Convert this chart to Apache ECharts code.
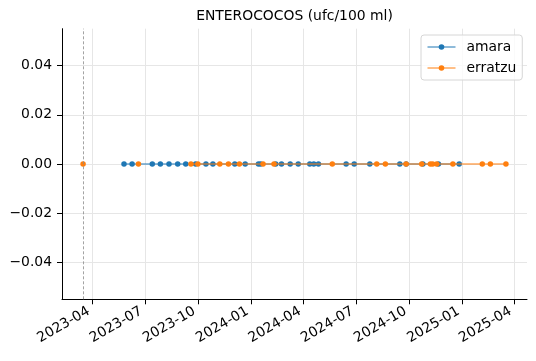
<!DOCTYPE html>
<html>
<head>
<meta charset="utf-8">
<script src="https://cdn.jsdelivr.net/npm/echarts@6/dist/echarts.min.js"></script>
<style>
html,body{margin:0;padding:0;background:#fff;}
#chart{width:536px;height:361px;}
</style>
</head>
<body>
<div id="chart"></div>
<script>
// ---- data ----
const titleText = 'ENTEROCOCOS (ufc/100 ml)';
const seriesNames = ['amara', 'erratzu'];
const amaraDates = ['2023-05-26','2023-06-09','2023-07-14','2023-07-28','2023-08-12','2023-08-27','2023-09-10','2023-09-27','2023-10-15','2023-10-27','2023-12-04','2023-12-22','2024-01-14','2024-01-18','2024-02-13','2024-02-23','2024-03-09','2024-03-23','2024-04-12','2024-04-19','2024-04-27','2024-06-14','2024-06-28','2024-07-25','2024-09-15','2024-09-26','2024-10-25','2024-11-21','2024-12-27'];
const amaraValues = [0,0,0,0,0,0,0,0,0,0,0,0,0,0,0,0,0,0,0,0,0,0,0,0,0,0,0,0,0];
const erratzuDates = ['2023-03-16','2023-05-01','2023-06-20','2023-08-01','2023-09-19','2023-10-01','2023-11-08','2023-11-23','2023-12-12','2024-01-22','2024-02-10','2024-05-21','2024-08-06','2024-08-21','2024-09-26','2024-10-23','2024-11-07','2024-11-11','2024-11-18','2024-12-16','2025-02-05','2025-02-19','2025-03-18'];
const erratzuValues = [0,null,0,null,0,0,0,0,0,0,0,0,0,0,0,0,0,0,0,0,0,0,0];
const markerDate = '2023-03-16';
const xTickDates = ['2023-04-01','2023-07-01','2023-10-01','2024-01-01','2024-04-01','2024-07-01','2024-10-01','2025-01-01','2025-04-01'];
const xMin = '2023-02-07T12:00:00';
const xMax = '2025-04-23T12:00:00';
const yTicks = [-0.04, -0.02, 0, 0.02, 0.04];
const yMin = -0.055, yMax = 0.055;

// ---- chart ----
const FONT = 'DejaVu Sans';
const FS = 13.9;
const parseT = s => +echarts.time.parse(s);
const xTickValues = xTickDates.map(parseT);
const pair = (ds, vs) => ds.map((d, i) => [parseT(d), vs[i] === null ? '-' : vs[i]]);
const fmtY = v => (v < 0 ? '\u2212' + (-v).toFixed(2) : Math.abs(v).toFixed(2));

const chart = echarts.init(document.getElementById('chart'), null, {renderer: 'canvas'});
chart.setOption({
  animation: false,
  backgroundColor: '#fff',
  textStyle: {fontFamily: FONT},
  title: {
    text: titleText,
    left: 294.5,
    top: 9,
    textAlign: 'center',
    padding: 0,
    textStyle: {fontFamily: FONT, fontSize: FS, fontWeight: 'normal', color: '#000'}
  },
  legend: {
    orient: 'vertical',
    left: 421,
    top: 35,
    padding: [5, 6, 5, 6],
    itemWidth: 28,
    itemHeight: 7,
    itemGap: 7,
    borderColor: '#d6d6d6',
    borderWidth: 1,
    borderRadius: 3,
    backgroundColor: 'rgba(255,255,255,0.8)',
    lineStyle: {width: 1},
    data: seriesNames,
    textStyle: {fontFamily: FONT, fontSize: FS, color: '#000', padding: [0, 0, 0, 6]}
  },
  grid: {left: 62, right: 9, top: 28.7, bottom: 61.7, containLabel: false},
  xAxis: {
    type: 'value',
    min: parseT(xMin),
    max: parseT(xMax),
    axisLine: {show: true, onZero: false, lineStyle: {color: '#000', width: 1}},
    axisTick: {show: true, length: 5, lineStyle: {color: '#000', width: 1}, customValues: xTickValues},
    axisLabel: {
      customValues: xTickValues,
      rotate: 30,
      margin: 9,
      padding: [0, 4, 0, 0],
      fontFamily: FONT, fontSize: FS, color: '#000',
      formatter: v => echarts.time.format(v, '{yyyy}-{MM}', false),
      hideOverlap: false
    },
    splitLine: {show: true, lineStyle: {color: '#e6e6e6', width: 1}}
  },
  yAxis: {
    type: 'value',
    min: yMin,
    max: yMax,
    axisLine: {show: true, lineStyle: {color: '#000', width: 1}},
    axisTick: {show: true, length: 5, lineStyle: {color: '#000', width: 1}, customValues: yTicks},
    axisLabel: {customValues: yTicks, margin: 10, fontFamily: FONT, fontSize: FS, color: '#000', formatter: fmtY},
    splitLine: {show: true, lineStyle: {color: '#e6e6e6', width: 1}}
  },
  series: [
    {
      name: seriesNames[0],
      type: 'line',
      data: pair(amaraDates, amaraValues),
      color: '#1f77b4',
      symbol: 'circle',
      symbolSize: 5.5,
      showSymbol: true,
      showAllSymbol: true,
      connectNulls: false,
      lineStyle: {width: 1.1, color: '#1f77b4'},
      itemStyle: {color: '#1f77b4'},
      z: 3
    },
    {
      name: seriesNames[1],
      type: 'line',
      data: pair(erratzuDates, erratzuValues),
      color: '#ff7f0e',
      symbol: 'circle',
      symbolSize: 5.5,
      showSymbol: true,
      showAllSymbol: true,
      connectNulls: false,
      lineStyle: {width: 1.1, color: '#ff7f0e'},
      itemStyle: {color: '#ff7f0e'},
      z: 4
    },
    {
      name: 'marker',
      type: 'line',
      data: [],
      silent: true,
      z: 2,
      markLine: {
        silent: true,
        symbol: 'none',
        label: {show: false},
        lineStyle: {color: '#8c8c8c', type: [3, 2], width: 0.8},
        data: [{xAxis: parseT(markerDate)}]
      }
    }
  ]
});
</script>
</body>
</html>
